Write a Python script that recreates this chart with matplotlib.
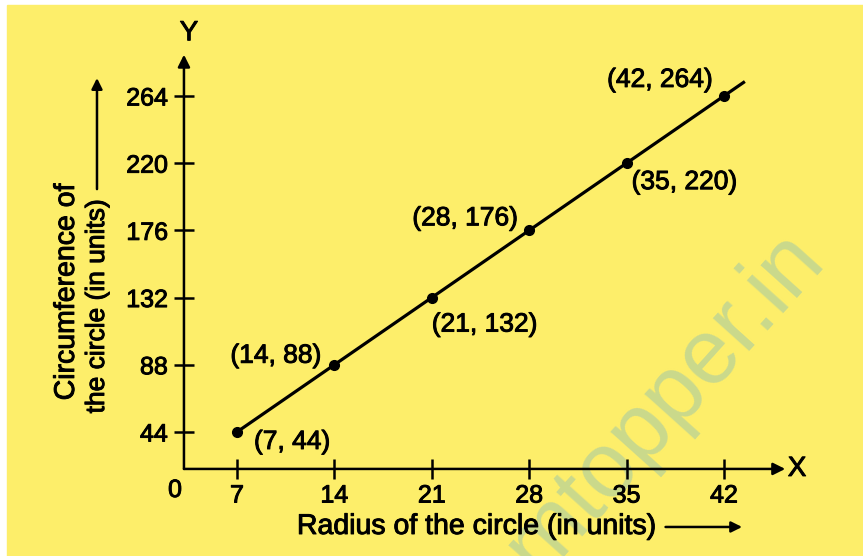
import matplotlib
matplotlib.use('Agg')

import matplotlib.pyplot as plt
import matplotlib.patches as mpatches
import matplotlib.patheffects as pe

# Radius vs circumference (C = 2 * 22/7 * r)
radius = [7, 14, 21, 28, 35, 42]
circumference = [44, 88, 132, 176, 220, 264]
point_labels = ['(7, 44)', '(14, 88)', '(21, 132)', '(28, 176)', '(35, 220)', '(42, 264)']
x_ticks = [7, 14, 21, 28, 35, 42]
y_ticks = [44, 88, 132, 176, 220, 264]

# label offsets in pixels and alignment for each point
label_offsets = [(17, -10), (-13, 9), (0, -27), (-11, 12), (5, -19), (-11, 16)]
label_align = ['left', 'right', 'left', 'right', 'left', 'right']

plt.rcParams['font.family'] = ['Liberation Sans', 'DejaVu Sans']
fs = 18          # tick labels
fs_pt = 19       # point labels
fs_title = 20.5  # axis titles
bg = '#fdee6a'
thick = [pe.withStroke(linewidth=0.7, foreground='black')]

fig = plt.figure(figsize=(8.63, 5.56), dpi=100, facecolor='white')
# yellow page
fig.patches.append(mpatches.Rectangle((7 / 863, 0), 1, 1 - 5 / 556,
                                      transform=fig.transFigure, color=bg, zorder=-5))

# watermark
fig.text(826 / 863, 1 - 262 / 556, 'amtopper.in', fontsize=66, color='#cad98c',
         rotation=48, rotation_mode='anchor',
         ha='right', va='baseline', zorder=-4)

ax = fig.add_axes([0, 0, 1, 1])
ax.set_facecolor('none')
ax.set_xlim(-10.03, 51.99)
ax.set_ylim(-37.2, 326.8)

x_axis_at = 19.8   # y-value where the horizontal axis sits
y_axis_at = 3.19   # x-value where the vertical axis sits

ax.spines['left'].set_position(('data', y_axis_at))
ax.spines['bottom'].set_position(('data', x_axis_at))
for s in ['top', 'right', 'left', 'bottom']:
    ax.spines[s].set_visible(False)

ax.set_xticks(x_ticks)
ax.set_yticks(y_ticks)
ax.tick_params(axis='both', direction='inout', length=15, width=1.8, labelsize=fs)
ax.tick_params(axis='x', pad=3)
ax.tick_params(axis='y', pad=4)
for t in ax.get_xticklabels() + ax.get_yticklabels():
    t.set_path_effects(thick)

# axis lines with arrow heads
arrow = dict(arrowstyle='-|>', lw=1.8, color='black', mutation_scale=18, shrinkA=0, shrinkB=0)
ax.annotate('', xy=(46.4, x_axis_at), xytext=(y_axis_at, x_axis_at), arrowprops=arrow)
ax.annotate('', xy=(y_axis_at, 291), xytext=(y_axis_at, x_axis_at), arrowprops=arrow)
ax.text(47.25, x_axis_at, 'X', fontsize=fs + 2, ha='center', va='center', path_effects=thick)
ax.text(3.55, 305, 'Y', fontsize=fs + 2, ha='center', va='center', path_effects=thick)
ax.text(2.55, 6, '0', fontsize=fs, ha='center', va='center', path_effects=thick)

# the line through the points, extended a little past the last one
ext_x = [radius[0], 43.5]
slope = (circumference[-1] - circumference[0]) / (radius[-1] - radius[0])
ext_y = [circumference[0], circumference[0] + slope * (43.5 - radius[0])]
ax.plot(ext_x, ext_y, color='black', lw=2.3, solid_capstyle='butt')
ax.plot(radius, circumference, 'o', color='black', markersize=7)

for x, y, lab, off, ha in zip(radius, circumference, point_labels, label_offsets, label_align):
    ax.annotate(lab, (x, y), xytext=off, textcoords='offset pixels',
                fontsize=fs_pt, ha=ha, va='center', path_effects=thick)

# axis titles
small_arrow = dict(arrow, mutation_scale=16)
ax.text(11.31, -18.2, 'Radius of the circle (in units)', fontsize=fs_title,
        ha='left', va='center', path_effects=thick)
ax.annotate('', xy=(43.3, -18.2), xytext=(37.8, -18.2), arrowprops=small_arrow)
ax.text(-5.22, 135.7, 'Circumference of', fontsize=fs_title, rotation=90,
        ha='center', va='center', path_effects=thick)
ax.text(-3.06, 126.5, 'the circle (in units)', fontsize=19, rotation=90,
        ha='center', va='center', path_effects=thick)
ax.annotate('', xy=(-3.06, 275.7), xytext=(-3.06, 203), arrowprops=small_arrow)

fig.savefig('out.png', dpi=100, facecolor=fig.get_facecolor())
